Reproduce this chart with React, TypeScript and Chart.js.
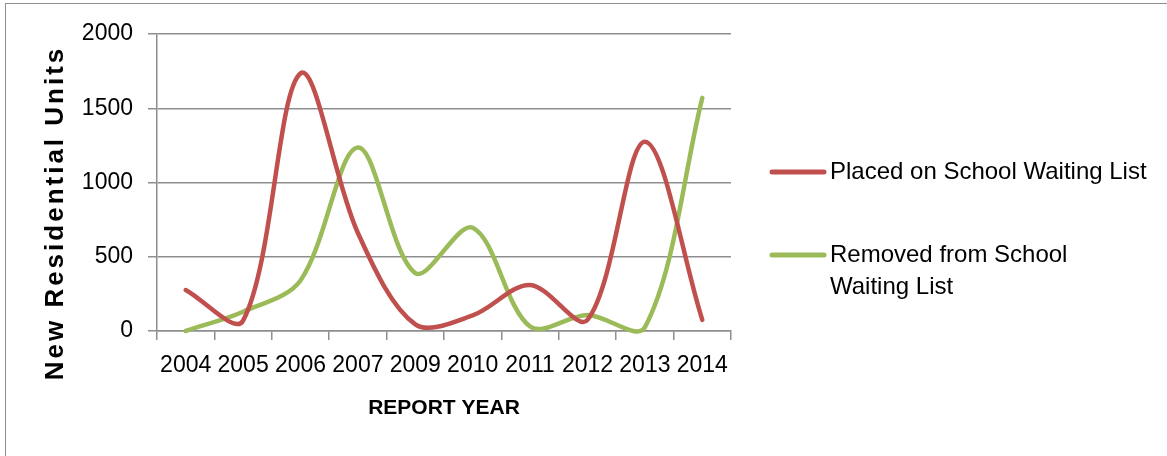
import React, { useEffect, useRef } from 'react';
import { Chart, registerables } from 'chart.js';

Chart.register(...registerables);

const categories = ['2004', '2005', '2006', '2007', '2009', '2010', '2011', '2012', '2013', '2014'];
const placedValues = [276, 70, 1735, 660, 45, 105, 310, 75, 1275, 75];
const removedValues = [0, 130, 340, 1235, 390, 695, 30, 108, 25, 1570];
const seriesNames = ['Placed on School Waiting List', 'Removed from School Waiting List'];
const legendLines = [['Placed on School Waiting List'], ['Removed from School', 'Waiting List']];
const xTitle = 'REPORT YEAR';
const yTitle = 'New Residential Units';
const yMin = 0;
const yMax = 2000;
const yStep = 500;

const RED = '#C0504D';
const GREEN = '#9BBB59';
const GRID = '#8E8E8E';
const FONT = '"Liberation Sans", Arial, sans-serif';

const decorPlugin = {
  id: 'decor',
  afterDraw(chart: any) {
    const ctx = chart.ctx as CanvasRenderingContext2D;
    const area = chart.chartArea;
    ctx.save();
    // Y-axis title
    ctx.fillStyle = '#000';
    ctx.font = `bold 26px ${FONT}`;
    (ctx as any).letterSpacing = '3px';
    ctx.textAlign = 'center';
    ctx.textBaseline = 'middle';
    ctx.translate(56, 213);
    ctx.rotate(-Math.PI / 2);
    ctx.fillText(yTitle, 0, 0);
    ctx.restore();

    ctx.save();
    (ctx as any).letterSpacing = '0px';
    ctx.fillStyle = '#000';
    ctx.font = `bold 21px ${FONT}`;
    ctx.textAlign = 'center';
    ctx.textBaseline = 'middle';
    ctx.fillText(xTitle, (area.left + area.right) / 2, 408);

    // Legend
    const colors = [RED, GREEN];
    const rowY = [172, 255];
    ctx.font = `24px ${FONT}`;
    ctx.textAlign = 'left';
    legendLines.forEach((lines, i) => {
      ctx.strokeStyle = colors[i];
      ctx.lineWidth = 5;
      ctx.lineCap = 'round';
      ctx.beginPath();
      ctx.moveTo(772, rowY[i]);
      ctx.lineTo(824, rowY[i]);
      ctx.stroke();
      lines.forEach((t, j) => {
        ctx.fillText(t, 830, rowY[i] + j * 32);
      });
    });
    ctx.restore();
  },
};

export default function App() {
  const canvasRef = useRef<HTMLCanvasElement | null>(null);

  useEffect(() => {
    const canvas = canvasRef.current;
    if (!canvas) return;
    const chart = new Chart(canvas, {
      type: 'line',
      data: {
        labels: categories,
        datasets: [
          {
            label: seriesNames[0],
            data: placedValues,
            borderColor: RED,
            backgroundColor: RED,
            borderWidth: 4.5,
            pointRadius: 0,
            tension: 0.33,
            borderCapStyle: 'round',
            borderJoinStyle: 'round',
          },
          {
            label: seriesNames[1],
            data: removedValues,
            borderColor: GREEN,
            backgroundColor: GREEN,
            borderWidth: 4.5,
            pointRadius: 0,
            tension: 0.33,
            borderCapStyle: 'round',
            borderJoinStyle: 'round',
          },
        ],
      },
      options: {
        responsive: false,
        animation: false,
        devicePixelRatio: 1,
        clip: 8,
        layout: { padding: { left: 0, top: 34, right: 436, bottom: 0 } },
        plugins: {
          legend: { display: false },
          tooltip: { enabled: false },
          title: { display: false },
        },
        elements: { line: { capBezierPoints: false } },
        scales: {
          x: {
            type: 'category',
            offset: true,
            grid: {
              offset: true,
              drawOnChartArea: false,
              drawTicks: true,
              tickLength: 9,
              color: GRID,
              lineWidth: 1.5,
            },
            border: { display: true, color: GRID, width: 1.5 },
            ticks: {
              color: '#000',
              font: { family: FONT, size: 23 },
              maxRotation: 0,
              autoSkip: false,
              padding: 12,
            },
            afterFit: (scale: any) => {
              scale.height = 125;
            },
          },
          y: {
            min: yMin,
            max: yMax,
            ticks: {
              stepSize: yStep,
              color: '#000',
              font: { family: FONT, size: 23 },
              padding: 15,
              callback: (v: any) => String(v),
            },
            grid: {
              color: GRID,
              lineWidth: 1.5,
              drawTicks: true,
              tickLength: 9,
            },
            border: { display: true, color: GRID, width: 1.5 },
            afterFit: (scale: any) => {
              scale.width = 157;
            },
          },
        },
      },
      plugins: [decorPlugin],
    });
    return () => chart.destroy();
  }, []);

  return (
    <div style={{ position: 'fixed', left: 0, top: 0, width: 1167, height: 456, background: '#fff', overflow: 'hidden' }}>
      <div
        style={{
          position: 'absolute',
          left: 5,
          top: 3,
          width: 1300,
          height: 600,
          border: '1.5px solid #8E8E8E',
          boxSizing: 'border-box',
        }}
      />
      <canvas ref={canvasRef} width={1167} height={456} style={{ position: 'absolute', left: 0, top: 0 }} />
    </div>
  );
}
